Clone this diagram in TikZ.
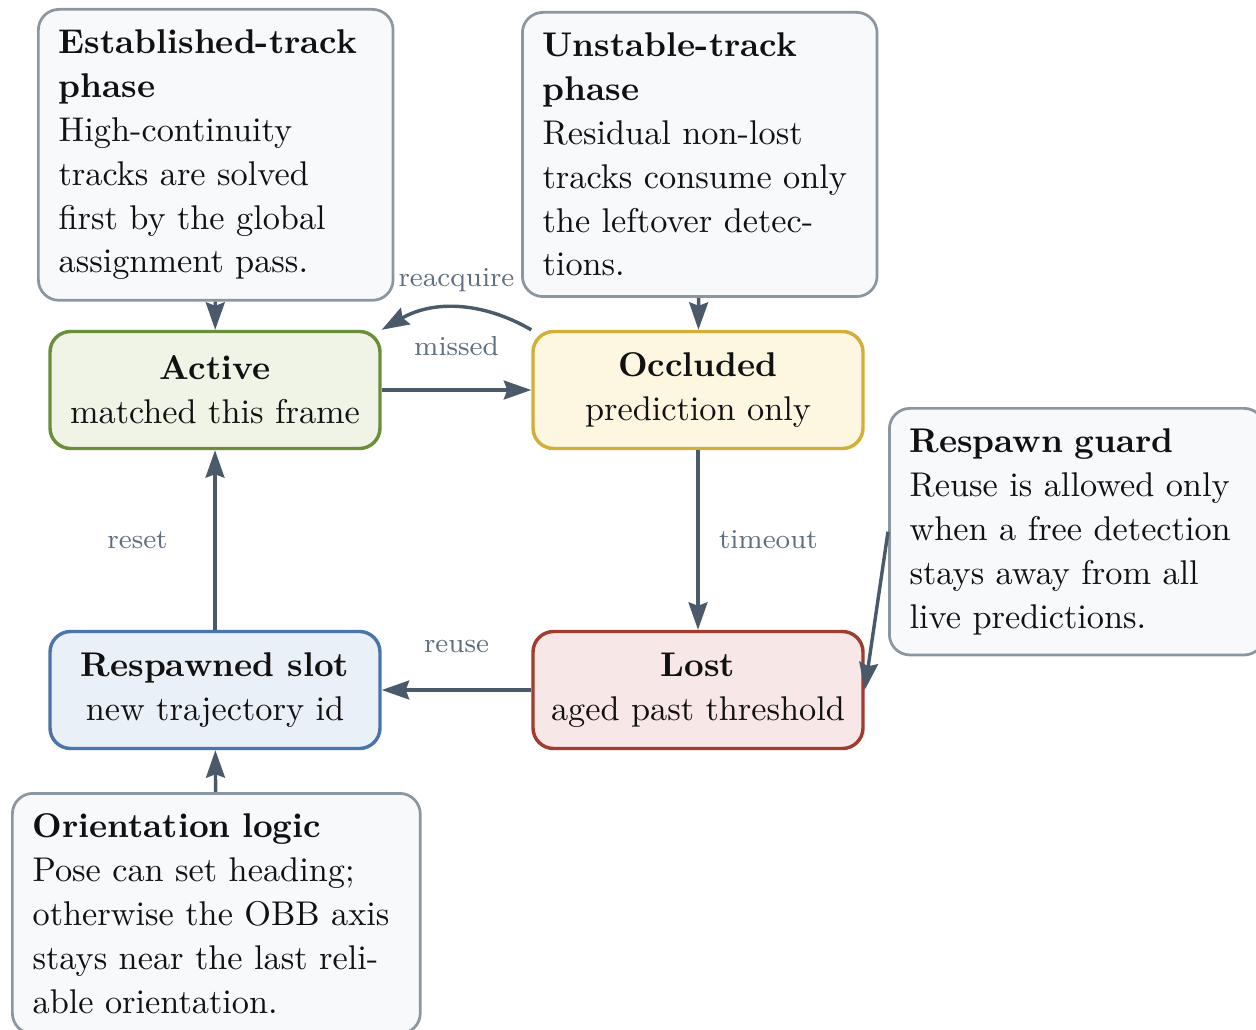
\documentclass[tikz,border=0pt]{standalone}
\usetikzlibrary{arrows.meta}
\definecolor{edgeink}{HTML}{4A5A6B}
\definecolor{labelink}{HTML}{5F6F80}
\definecolor{inkc}{HTML}{111111}
\definecolor{noteline}{HTML}{8C96A1}
\definecolor{notefill}{HTML}{F8F9FB}
\definecolor{activeline}{HTML}{6B8E3A}
\definecolor{activefill}{HTML}{F0F4E6}
\definecolor{occline}{HTML}{D4AF37}
\definecolor{occfill}{HTML}{FDF6E1}
\definecolor{lostline}{HTML}{A23B30}
\definecolor{lostfill}{HTML}{F7E7E6}
\definecolor{respline}{HTML}{4B74A8}
\definecolor{respfill}{HTML}{EAF0F8}
\tikzset{
  statebox/.style={draw=#1line, fill=#1fill, line width=1pt, rounded corners=6pt,
    minimum width=96.2pt, minimum height=34.1pt, align=center, text=inkc,
    execute at begin node=\setlength{\baselineskip}{12.8pt}},
  notebox/.style={draw=noteline, fill=notefill, line width=0.8pt, rounded corners=6pt,
    inner sep=5.9pt, anchor=north west, align=left, text=inkc, text width=#1,
    execute at begin node=\setlength{\baselineskip}{12.8pt}},
  flow/.style={draw=edgeink, line width=1pt, -{Stealth[length=8pt,width=5.5pt,inset=1pt]}},
  tag/.style={font=\footnotesize, text=labelink}
}
\begin{document}
\begin{tikzpicture}[x=0.2915pt, y=0.2915pt]
\useasboundingbox (0,0) rectangle (1256,1029);
% states
\node[statebox=active] (act) at (215,639) {\textbf{Active}\\matched this frame};
\node[statebox=occ] (occ) at (698,639) {\textbf{Occluded}\\prediction only};
\node[statebox=lost] (lost) at (698,339) {\textbf{Lost}\\aged past threshold};
\node[statebox=resp] (resp) at (215,339) {\textbf{Respawned slot}\\new trajectory id};
% notes
\node[notebox=91.6pt] (est) at (37,1021) {\textbf{Established-track}\\\textbf{phase}\\High-continuity\\tracks are solved\\first by the global\\assignment pass.};
\node[notebox=91.6pt] (unst) at (521,1018) {\textbf{Unstable-track}\\\textbf{phase}\\Residual non-lost\\tracks consume only\\the leftover detec-\\tions.};
\node[notebox=97.6pt] (guard) at (888,622) {\textbf{Respawn guard}\\Reuse is allowed only\\when a free detection\\stays away from all\\live predictions.};
\node[notebox=107.1pt] (orient) at (11,237) {\textbf{Orientation logic}\\Pose can set heading;\\otherwise the OBB axis\\stays near the last reli-\\able orientation.};
% transitions
\draw[flow] (act) -- node[tag, midway, above=6pt] {missed} (occ);
\draw[flow] (occ.north west) to[bend right=30] node[tag, midway, above=1pt] {reacquire} (act.north east);
\draw[flow] (occ) -- node[tag, midway, right=2.3pt] {timeout} (lost);
\draw[flow] (lost) -- node[tag, midway, above=7pt] {reuse} (resp);
\draw[flow] (resp) -- node[tag, midway, left=10pt] {reset} (act);
% note links
\draw[flow] (est) -- (act);
\draw[flow] (unst) -- (occ);
\draw[flow] (orient) -- (resp);
\draw[flow] (guard.west) -- (lost.east);
\end{tikzpicture}
\end{document}
